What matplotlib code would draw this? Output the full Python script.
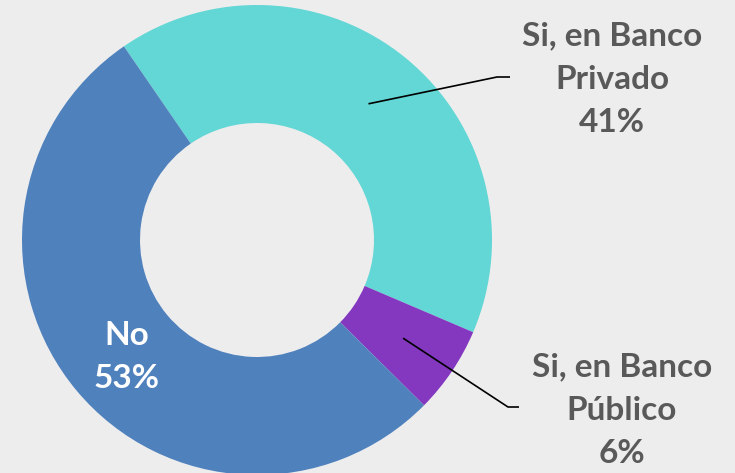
import numpy as np
import matplotlib.pyplot as plt

labels = ["Si, en Banco\nPrivado", "Si, en Banco\nPúblico", "No"]
values = [41, 6, 53]
colors = ["#62D7D5", "#8338BF", "#4F81BD"]

bg = "#EDEDED"
txt = "#595959"
font = ["Lato", "DejaVu Sans"]

fig = plt.figure(figsize=(7.35, 4.73), dpi=100, facecolor=bg)
ax = fig.add_axes([0, 0, 1, 1])
ax.set_facecolor(bg)

cx, cy, R = 257, 233, 235
ring = 118
start = 124.5

wedges, _ = ax.pie(values, colors=colors, startangle=start, counterclock=False,
                   center=(cx, cy), radius=R, frame=True,
                   wedgeprops=dict(width=ring, linewidth=0))
ax.set_xlim(0, 735)
ax.set_ylim(0, 473)
ax.set_aspect("equal")
ax.axis("off")

total = sum(values)
mids = []
a = start
for v in values:
    span = 360 * v / total
    mids.append(np.deg2rad(a - span / 2))
    a -= span
rm = R - ring / 2

# leader lines + labels for outside slices
elbows = [(497, 396), (508, 66)]
ends = [(510, 396), (519, 66)]
text_pos = [(612, 394), (622, 63)]
for i in range(2):
    sx = cx + rm * np.cos(mids[i])
    sy = cy + rm * np.sin(mids[i])
    ax.plot([sx, elbows[i][0], ends[i][0]], [sy, elbows[i][1], ends[i][1]],
            color="black", lw=1.2, solid_capstyle="butt")
    ax.text(text_pos[i][0], text_pos[i][1], f"{labels[i]}\n{values[i]}%",
            ha="center", va="center", fontsize=24, fontweight="bold",
            color=txt, family=font, linespacing=1.6)

ax.text(127, 116, f"{labels[2]}\n{values[2]}%", ha="center", va="center",
        fontsize=24, fontweight="bold", color="white", family=font,
        linespacing=1.6)

fig.savefig("out.png", dpi=100, facecolor=bg)
